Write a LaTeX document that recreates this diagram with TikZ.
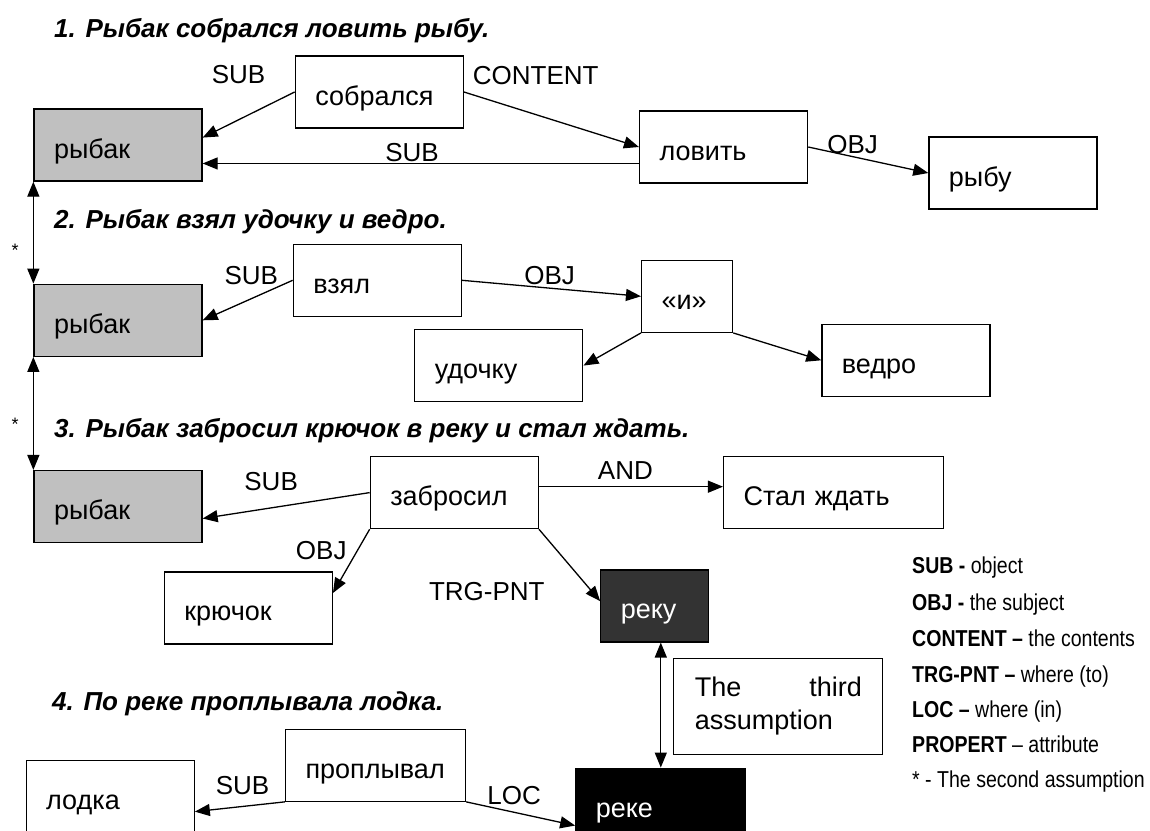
\documentclass[tikz,border=0pt]{standalone}
\usepackage{fontspec}
\setmainfont{Liberation Sans}
\newfontfamily\keyfont[FakeStretch=0.85]{Liberation Sans}
\usepackage{tikz}
\usetikzlibrary{arrows.meta, positioning, shapes}
\usepackage{xcolor}
\tikzstyle{wbox} = [%
  rectangle,
  draw=black,
  line width=1.3pt,
  minimum height=72pt,
  text width=128pt,
  text height=26pt,
  text depth=0pt,
  inner xsep=20pt,
  align=left,
  font=\fontsize{27}{31}\selectfont
]
\definecolor{fishGray}{HTML}{C0C0C0}
\definecolor{riverDark}{HTML}{333333}

\begin{document}
\begin{tikzpicture}[%
  x=1pt, y=-1pt,
  rel/.style={%
    -{Triangle[length=15pt,width=12pt]},
    line width=1.3pt
  },
  both/.style={%
    {Triangle[length=15pt,width=12pt]}-{Triangle[length=15pt,width=12pt]},
    line width=1.3pt
  },
  lab/.style={inner sep=1pt, font=\fontsize{26}{30}\selectfont},
  star/.style={inner sep=1pt, font=\fontsize{18}{20}\selectfont},
  heading/.style={anchor=base west, inner sep=0pt, font=\fontsize{26}{30}\selectfont\bfseries\itshape},
  keytext/.style={anchor=base west, inner sep=0pt, font=\fontsize{23}{27}\selectfont\keyfont}
]
  \path[use as bounding box, fill=white] (0,0) rectangle (1150,830);

  % Sentence headings
  \node[heading] (Q1) at (54,37) {1. Рыбак собрался ловить рыбу.};
  \node[heading] (Q2) at (54,228) {2. Рыбак взял удочку и ведро.};
  \node[heading] (Q3) at (54,437) {3. Рыбак забросил крючок в реку и стал ждать.};
  \node[heading] (Q4) at (52,710) {4. По реке проплывала лодка.};

  % Nodes
  \node[wbox,fill=fishGray] (F1) at (118,145) {рыбак};
  \node[wbox,right=92pt of F1,yshift=53pt] (G1) {собрался};
  \node[wbox,right=175pt of G1,yshift=-55pt] (C1) {ловить};
  \node[wbox,right=120pt of C1,yshift=-26pt] (Y1) {рыбу};

  \node[wbox,fill=fishGray,below=102pt of F1] (F2) {рыбак};
  \node[wbox,right=90pt of F2,yshift=40pt] (T2) {взял};
  \node[wbox,text width=51pt,right=179pt of T2,yshift=-16pt] (I2) {«и»};
  \node[wbox,below=12pt of T2,xshift=121.5pt] (U2) {удочку};
  \node[wbox,right=88pt of I2,yshift=-64pt] (B2) {ведро};

  \node[wbox,fill=fishGray,below=113pt of F2] (F3) {рыбак};
  \node[wbox,right=167pt of F3,yshift=14pt] (H3) {забросил};
  \node[wbox,text width=180pt,right=184pt of H3] (W3) {Стал ждать};
  \node[wbox,below=42pt of H3,xshift=-206pt] (K3) {крючок};
  \node[wbox,text width=68pt,fill=riverDark,text=white,below=40pt of H3,xshift=200.5pt] (R3) {реку};
  \node[wbox,text width=167pt,text height={},text depth={},inner xsep=21pt,minimum height=96pt,align=justify,
        font=\fontsize{27}{33}\selectfont,below=15pt of R3,xshift=123.5pt] (A4) {The third \mbox{assumption}};

  \node[wbox,text width=130pt,fill=black,text=white,below=125pt of R3,xshift=6pt] (R4) {реке};
  \node[wbox,text width=140pt,left=109pt of R4,yshift=39pt] (D4) {проплывал};
  \node[wbox,left=90pt of D4,yshift=-31.5pt] (L4) {лодка};

  % Key
  \node[keytext] (E1) at (912,573) {\textbf{SUB -} object};
  \node[keytext] (E2) at (912,610) {\textbf{OBJ -} the subject};
  \node[keytext] (E3) at (912,646) {\textbf{CONTENT –} the contents};
  \node[keytext] (E4) at (912,682) {\textbf{TRG-PNT –} where (to)};
  \node[keytext] (E5) at (912,717) {\textbf{LOC –} where (in)};
  \node[keytext] (E6) at (912,752) {\textbf{PROPERT} – attribute};
  \node[keytext] (E7) at (912,787) {* - The second assumption};

  % Sentence 1 edges
  \draw[rel] (G1.west) to node[lab,pos=0.61,above=34pt] {SUB} (F1.5);
  \draw[rel] (G1.east) to node[lab,pos=0.41,above=28pt] {CONTENT} (C1.west);
  \draw[rel] (C1.191) to node[lab,pos=0.52,above=0pt] {SUB} (C1.191 -| F1.east);
  \draw[rel] (C1.east) to node[lab,pos=0.37,above=1pt] {OBJ} (Y1.west);

  % Sentence 2 edges
  \draw[rel] (T2.west) to node[lab,pos=0.46,above=12pt] {SUB} (F2.east);
  \draw[rel] (T2.east) to node[lab,pos=0.49,above=1.5pt] {OBJ} (I2.west);
  \draw[rel] (I2.south west) to (U2.east);
  \draw[rel] (I2.south east) to (B2.west);

  % Sentence 3 edges
  \draw[rel] (H3.west) to node[lab,pos=0.59,above=15pt] {SUB} (F3.-8);
  \draw[rel] (H3.4) to node[lab,pos=0.47,above=6pt] {AND} (H3.4 -| W3.west);
  \draw[rel] (H3.south west) to node[lab,pos=0.34,left=9pt] {OBJ} (K3.10);
  \draw[rel] (H3.south east) to node[lab,pos=0.87,left=46pt] {TRG-PNT} (R3.175);

  % Sentence 4 edges
  \draw[rel] (D4.south west) to node[lab,pos=0.47,above=10pt] {SUB} (L4.-10);
  \draw[rel] (D4.south east) to node[lab,pos=0.44,above=6pt] {LOC} (R4.194);

  % Assumption links
  \draw[both] (F1.south west) to node[star,pos=0.67,left=13pt] {*} (F2.north west);
  \draw[both] (F2.south west) to node[star,pos=0.6,left=13pt] {*} (F3.north west);
  \draw[both] (R4.north) to (R4.north |- R3.south);

\end{tikzpicture}
\end{document}
